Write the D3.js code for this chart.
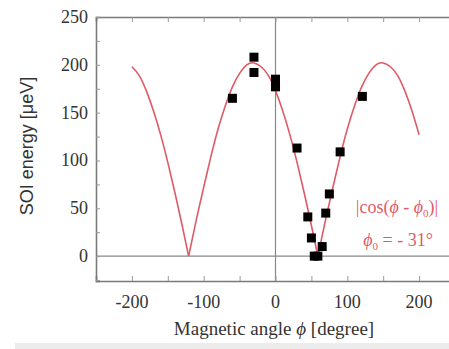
<!DOCTYPE html>
<html><head><meta charset="utf-8">
<script src="https://cdn.jsdelivr.net/npm/d3@7"></script>
<style>body{margin:0;background:#fff;overflow:hidden}</style>
</head><body><svg id="c" width="449" height="349"></svg>
<script>
// measured data points: angle (degree), SOI energy (µeV)
const dataAngle  = [-60, -30, -30, 0, 0, 30, 45, 50, 54, 59, 65, 70, 75, 90, 121];
const dataEnergy = [165, 208, 192, 185, 177, 113, 41, 19, 0, 0, 10, 45, 65, 109, 167];
// fit curve |cos(phi - phi0)|
const fitAngle  = [-200,-190,-180,-170,-160,-150,-140,-130,-121,-110,-100,-90,-80,-70,-60,-50,-40,-30,-20,-10,0,10,20,30,40,50,59,70,80,90,100,110,120,130,140,150,160,170,180,190,200];
const fitEnergy = [198,189,173,152,127,98,66,32,0,39,72,104,133,157,177,191,200,202,198,189,173,152,127,98,66,32,0,39,72,104,133,157,177,191,200,202,198,189,173,152,127];
const xTicks = [-200,-100,0,100,200];
const yTicks = [0,50,100,150,200,250];

const svg = d3.select("#c");
const L=96, T=17, R=455, B=281;
const x = d3.scaleLinear().domain([-250,250]).range([L,R]);
const y = d3.scaleLinear().domain([-26,250]).range([B,T]);
const axisCol = "#7a7a7a", textCol = "#333";

svg.append("rect").attr("x",15).attr("y",343).attr("width",434).attr("height",6).attr("fill","#ececec");

// zero lines
svg.append("line").attr("x1",L).attr("x2",R).attr("y1",y(0)).attr("y2",y(0)).attr("stroke","#888").attr("stroke-width",1.2);
svg.append("line").attr("x1",x(0)).attr("x2",x(0)).attr("y1",T).attr("y2",B).attr("stroke","#888").attr("stroke-width",1.2);

// axes with inward ticks
const gx = svg.append("g").attr("transform",`translate(0,${B})`)
  .call(d3.axisBottom(x).tickValues(d3.range(-250,251,50)).tickSize(-5).tickFormat(""));
const gxt = svg.append("g").attr("transform",`translate(0,${T})`)
  .call(d3.axisTop(x).tickValues(d3.range(-250,251,50)).tickSize(-5).tickFormat(""));
const gy = svg.append("g").attr("transform",`translate(${L},0)`)
  .call(d3.axisLeft(y).tickValues(d3.range(-25,251,25)).tickSize(-4).tickFormat(""));
[gx,gxt,gy].forEach(g=>{
  g.select(".domain").attr("stroke",axisCol).attr("stroke-width",1.6);
  g.selectAll(".tick line").attr("stroke","#999").attr("stroke-width",1);
});

// tick labels
svg.append("g").selectAll("text").data(xTicks).join("text")
  .attr("x",d=>x(d)).attr("y",308).attr("text-anchor","middle")
  .attr("font-family","Liberation Serif, serif").attr("font-size",18).attr("fill",textCol)
  .text(d=>d);
svg.append("g").selectAll("text").data(yTicks).join("text")
  .attr("x",88).attr("y",d=>y(d)+6).attr("text-anchor","end")
  .attr("font-family","Liberation Serif, serif").attr("font-size",18).attr("fill",textCol)
  .text(d=>d);

// axis titles
const xl = svg.append("text").attr("x",274).attr("y",335).attr("text-anchor","middle")
  .attr("font-family","Liberation Serif, serif").attr("font-size",19).attr("fill",textCol);
xl.append("tspan").text("Magnetic angle ");
xl.append("tspan").attr("font-style","italic").text("ϕ");
xl.append("tspan").text(" [degree]");
svg.append("text").attr("transform","translate(33,146) rotate(-90)").attr("text-anchor","middle")
  .attr("font-family","Liberation Sans, Arial, sans-serif").attr("font-size",18).attr("fill",textCol)
  .text("SOI energy [μeV]");

// fit curve, split at cusps
const pts = fitAngle.map((a,i)=>[a,fitEnergy[i]]);
const segs=[]; let cur=[];
pts.forEach((p,i)=>{ cur.push(p); if(p[1]===0 && i>0 && i<pts.length-1){ segs.push(cur); cur=[p]; } });
segs.push(cur);
const line = d3.line().x(d=>x(d[0])).y(d=>y(d[1])).curve(d3.curveNatural);
svg.append("g").selectAll("path").data(segs).join("path")
  .attr("d",line).attr("fill","none").attr("stroke","#e05a66").attr("stroke-width",1.6);

// data squares
const s=9;
svg.append("g").selectAll("rect").data(dataAngle.map((a,i)=>[a,dataEnergy[i]])).join("rect")
  .attr("x",d=>x(d[0])-s/2).attr("y",d=>y(d[1])-s/2).attr("width",s).attr("height",s).attr("fill","#000");

// annotation
const red="#e05a66";
const a1 = svg.append("text").attr("x",397).attr("y",213).attr("text-anchor","middle")
  .attr("font-family","Liberation Serif, serif").attr("font-size",18).attr("fill",red);
a1.append("tspan").text("|cos(");
a1.append("tspan").attr("font-style","italic").text("ϕ");
a1.append("tspan").text(" - ");
a1.append("tspan").attr("font-style","italic").text("ϕ");
a1.append("tspan").attr("font-size",11).attr("dy",4).text("0");
a1.append("tspan").attr("dy",-4).text(")|");
const a2 = svg.append("text").attr("x",398).attr("y",246).attr("text-anchor","middle")
  .attr("font-family","Liberation Serif, serif").attr("font-size",18).attr("fill",red);
a2.append("tspan").attr("font-style","italic").text("ϕ");
a2.append("tspan").attr("font-size",11).attr("dy",4).text("0");
a2.append("tspan").attr("dy",-4).text(" = - 31°");
</script></body></html>
